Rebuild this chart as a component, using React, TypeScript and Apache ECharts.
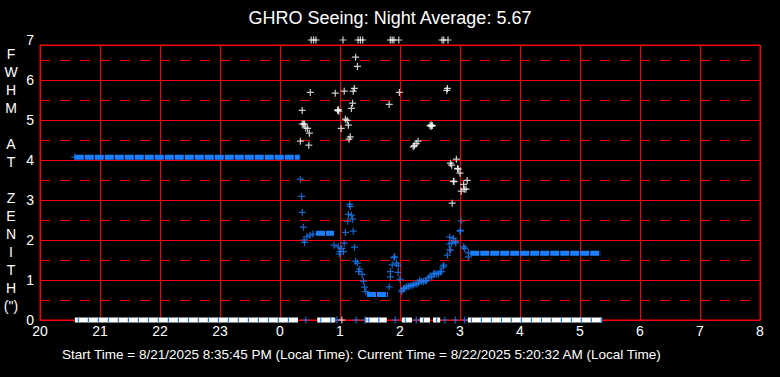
import React, { useEffect, useRef } from "react";
import * as echarts from "echarts";

// ---- data (hours since midnight of start day; 24+ = next day) ----
const TITLE = "GHRO Seeing: Night Average: 5.67";
const FOOTER =
  "Start Time = 8/21/2025 8:35:45 PM (Local Time): Current Time = 8/22/2025 5:20:32 AM (Local Time)";
const Y_TITLE = ["F", "W", "H", "M", "", "A", "T", "", "Z", "E", "N", "I", "T", "H", '(")'];
const xTickLabels = ["20", "21", "22", "23", "0", "1", "2", "3", "4", "5", "6", "7", "8"];
const yTickLabels = ["0", "1", "2", "3", "4", "5", "6", "7"];
const halfLines = [0.5, 1.5, 2.5, 3.5, 4.5, 5.5, 6.5];

// dense runs of samples: [start, end, value]
const blueRuns = [
  [20.58, 24.33, 4.07],
  [24.6, 24.9, 2.17],
  [25.45, 25.8, 0.64],
  [27.17, 29.34, 1.67],
];
const whiteZeroRuns = [
  [20.58, 24.3, 0],
  [24.62, 24.92, 0],
  [25.42, 25.78, 0],
  [26.03, 26.2, 0],
  [26.33, 26.5, 0],
  [26.55, 26.67, 0],
  [27.13, 29.37, 0],
];

const bluePoints = [
  [20.58, 4.07], [24.34, 3.52], [24.36, 3.09], [24.37, 2.69], [24.39, 2.32], [24.4, 2.0], [24.41, 1.94],
  [24.45, 2.08], [24.5, 2.12], [24.55, 2.15],
  [25.16, 2.89], [25.17, 2.84], [25.14, 2.64], [25.19, 2.62], [25.21, 2.52], [25.13, 2.47], [25.22, 2.22],
  [25.09, 2.19], [24.9, 1.87], [24.97, 1.83], [25.03, 1.79], [25.0, 1.71], [24.99, 1.65], [25.07, 1.92],
  [25.06, 1.71], [25.24, 1.82], [25.26, 1.47], [25.29, 1.42], [25.33, 1.27], [25.31, 1.21], [25.37, 1.14],
  [25.39, 0.97], [25.41, 0.82], [25.43, 0.71],
  [25.82, 0.83], [25.84, 1.08], [25.84, 1.21], [25.97, 1.19], [25.87, 1.38], [25.94, 1.42], [25.97, 1.36],
  [25.9, 1.56], [25.91, 1.58], [26.0, 1.02], [26.03, 0.75], [26.06, 0.79], [26.03, 0.71],
  [26.08, 0.8], [26.11, 0.83], [26.14, 0.84], [26.17, 0.85], [26.2, 0.87], [26.22, 0.88], [26.25, 0.9],
  [26.28, 0.9], [26.31, 0.93], [26.33, 1.0], [26.36, 0.96], [26.39, 0.96], [26.42, 0.98], [26.44, 0.98],
  [26.47, 1.05], [26.5, 1.1], [26.53, 1.08], [26.56, 1.15], [26.58, 1.17], [26.61, 1.15], [26.64, 1.15],
  [26.67, 1.2], [26.69, 1.21], [26.72, 1.33], [26.73, 1.37],
  [26.79, 1.62], [26.83, 1.75], [26.84, 1.75], [26.86, 1.92], [26.82, 1.9], [26.92, 1.96], [26.93, 1.93],
  [26.83, 2.07], [26.89, 2.04], [27.0, 2.22], [27.01, 2.24], [27.02, 2.48],
  [27.06, 1.83], [27.08, 1.79], [27.14, 1.68], [27.14, 1.58],
  [24.43, 0], [24.95, 0], [25.27, 0], [25.42, 0], [25.92, 0], [26.27, 0], [26.75, 0], [26.92, 0], [27.08, 0],
];

const whitePoints = [
  [24.52, 7], [24.56, 7], [24.6, 7], [25.05, 7], [25.3, 7], [25.34, 7], [25.38, 7], [25.84, 7], [25.87, 7],
  [25.9, 7], [25.98, 7], [26.7, 7], [26.73, 7], [26.8, 7],
  [25.26, 6.57], [25.29, 6.34], [24.505, 5.69], [24.92, 5.67], [25.07, 5.72], [25.24, 5.79], [25.22, 5.72],
  [25.99, 5.69], [26.79, 5.79], [26.78, 5.74],
  [24.37, 5.24], [24.96, 5.24], [24.98, 5.22], [24.97, 5.26], [25.21, 5.42], [25.19, 5.29], [25.82, 5.39],
  [24.39, 4.9], [24.41, 4.9], [24.37, 4.9], [24.46, 4.79], [24.43, 4.8], [24.49, 4.67], [24.34, 4.47],
  [24.48, 4.37], [25.09, 5.02], [25.12, 4.99], [25.14, 4.87], [25.02, 4.79], [25.17, 4.58], [25.15, 4.52],
  [26.5, 4.86], [26.52, 4.88], [26.54, 4.86], [26.52, 4.84],
  [26.3, 4.47], [26.27, 4.41], [26.22, 4.33], [26.24, 4.36],
  [26.94, 4.02], [26.84, 3.92], [26.86, 3.87], [26.97, 3.77], [26.96, 3.79], [27.0, 3.67], [27.12, 3.49],
  [26.89, 3.47], [26.9, 3.46], [27.06, 3.39], [27.07, 3.27], [27.1, 3.27], [27.02, 3.22], [26.87, 2.92],
  [25.03, 0],
];

const RED = "#ff0000";
const BLUE = "#1a80ff";
const WHITE = "#ffffff";
const FONT = "'Liberation Sans', Arial, sans-serif";
const PLUS = "path://M0,2.9H7V4.1H0ZM2.9,0H4.1V7H2.9Z";
const Y_TOP = 6.875; // plot frame top (tick label "7" sits just above)

function runSeries(
  name: string,
  data: number[][],
  color: string,
  width: number,
  dash: number[] | null,
  dashOffset: number,
  z: number
) {
  return {
    name,
    type: "custom",
    z,
    clip: false,
    encode: { x: [0, 1], y: 2 },
    data,
    renderItem: (_p: any, api: any) => {
      const s = api.coord([api.value(0), api.value(2)]);
      const e = api.coord([api.value(1), api.value(2)]);
      return {
        type: "line",
        shape: { x1: s[0], y1: s[1], x2: e[0], y2: e[1] },
        style: {
          stroke: color,
          lineWidth: width,
          lineDash: dash || undefined,
          lineDashOffset: dashOffset,
        },
      };
    },
  };
}

export default function App() {
  const ref = useRef<HTMLDivElement>(null);
  useEffect(() => {
    document.body.style.margin = "0";
    document.body.style.background = "#000";
    const chart = echarts.init(ref.current!, null, { renderer: "svg" });
    chart.setOption({
      animation: false,
      backgroundColor: "#000",
      title: {
        text: TITLE,
        left: "center",
        top: 9,
        padding: 0,
        textStyle: { color: WHITE, fontSize: 18, fontWeight: "normal", fontFamily: FONT },
      },
      grid: { left: 40, right: 20, top: 45, bottom: 57, show: true, borderColor: RED, borderWidth: 1, backgroundColor: "transparent" },
      xAxis: {
        type: "value",
        min: 20,
        max: 32,
        interval: 1,
        axisLine: { show: true, lineStyle: { color: RED, width: 1 } },
        axisTick: { show: false },
        splitLine: { show: true, lineStyle: { color: RED, width: 1 } },
        axisLabel: {
          color: WHITE,
          fontSize: 14,
          fontFamily: FONT,
          margin: 4,
          formatter: (v: number) => xTickLabels[Math.round(v - 20)] ?? "",
        },
      },
      yAxis: {
        type: "value",
        min: 0,
        max: Y_TOP,
        interval: 1,
        axisLine: { show: true, lineStyle: { color: RED, width: 1 } },
        axisTick: { show: false },
        splitLine: { show: true, lineStyle: { color: RED, width: 1 } },
        axisLabel: {
          color: WHITE,
          fontSize: 14,
          fontFamily: FONT,
          margin: 6,
          showMaxLabel: true,
          formatter: (v: number) =>
            v > 6.5 ? "{t|" + yTickLabels[7] + "}" : yTickLabels[Math.round(v)] ?? "",
          rich: { t: { color: WHITE, fontSize: 14, fontFamily: FONT, padding: [0, 0, 10, 0] } },
        },
      },
      graphic: [
        {
          type: "text",
          left: 62,
          top: 347,
          style: { text: FOOTER, fill: WHITE, font: "13.5px " + FONT },
        },
        {
          type: "text",
          x: 11,
          y: 45,
          style: {
            text: Y_TITLE.join("\n"),
            fill: WHITE,
            font: "14px " + FONT,
            textAlign: "center",
            textVerticalAlign: "top",
            lineHeight: 18,
          },
        },
      ],
      series: [
        {
          name: "half",
          type: "scatter",
          data: [],
          z: 1,
          markLine: {
            silent: true,
            symbol: ["none", "none"],
            label: { show: false },
            lineStyle: { color: RED, width: 1, type: [10, 10] },
            data: halfLines.map((v) => ({ yAxis: v })),
          },
        },
        runSeries("whiteZero", whiteZeroRuns, WHITE, 5, null, 0, 3),
        runSeries("whiteZeroTicks", whiteZeroRuns, BLUE, 5, [1.2, 8.8], -3, 3.5),
        runSeries("blueRuns", blueRuns, BLUE, 5, [9, 1], 0, 3),
        {
          name: "blue",
          type: "scatter",
          z: 4,
          clip: false,
          symbol: PLUS,
          symbolSize: 7,
          itemStyle: { color: BLUE },
          data: bluePoints,
        },
        {
          name: "white",
          type: "scatter",
          z: 5,
          clip: false,
          symbol: PLUS,
          symbolSize: 7,
          itemStyle: { color: WHITE },
          data: whitePoints,
        },
      ],
    });
    return () => chart.dispose();
  }, []);
  return <div ref={ref} style={{ width: 780, height: 377 }} />;
}
